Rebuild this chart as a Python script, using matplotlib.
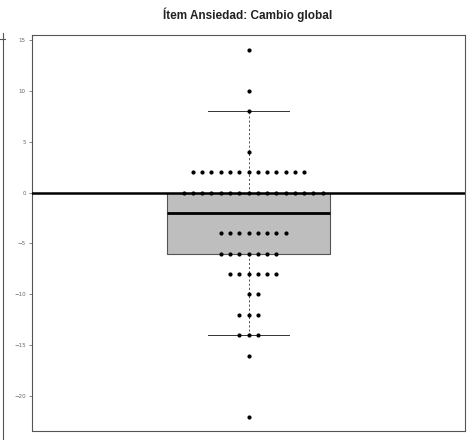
import matplotlib.pyplot as plt
import numpy as np
from matplotlib.lines import Line2D

# change scores (value -> how many patients)
values = np.array([14, 10, 8, 4, 2, 0, -2, -4, -6, -8, -10, -12, -14, -16, -22])
counts = np.array([1, 1, 1, 1, 13, 16, 5, 8, 7, 6, 2, 3, 3, 1, 1])
scores = np.repeat(values, counts)

yticks = [-20, -15, -10, -5, 0, 5, 10, 15]
title = "Ítem Ansiedad: Cambio global"

fig = plt.figure(figsize=(4.67, 4.4), dpi=100)
ax = fig.add_axes([32 / 467, 9 / 440, 433 / 467, 396 / 440])

bp = ax.boxplot(scores, positions=[1], widths=0.376, whis=1.5, showfliers=False,
                patch_artist=True, capwidths=0.185,
                boxprops=dict(facecolor="#bebebe", edgecolor="#555555", lw=0.8),
                medianprops=dict(color="black", lw=2, zorder=5),
                whiskerprops=dict(color="#333333", lw=0.6, ls=(0, (2.5, 2.5))),
                capprops=dict(color="#333333", lw=0.7))
med = np.median(scores)

# stacked strip of points (the row on the median is hidden behind the box)
step = 0.0214
for v, n in zip(values, counts):
    offs = (np.arange(n) - (n - 1) // 2) * step
    z = 1 if v == med else 3
    ax.plot(1 + offs, np.full(n, v), "o", ms=2.0, color="black", zorder=z)

ax.axhline(0, color="black", lw=1.8, zorder=4)

ax.set_xlim(0.5, 1.5)
ax.set_ylim(-23.4, 15.46)
ax.set_xticks([])
ax.set_yticks(yticks)
ax.tick_params(axis="y", labelsize=4, labelcolor="#666666", length=2.5,
               width=0.5, color="#555555", pad=2)
for s in ax.spines.values():
    s.set_color("#555555")
    s.set_linewidth(0.8)

fig.text(248 / 467, 1 - 15 / 440, title, ha="center", va="center",
         fontsize=8.5, fontweight="bold", family="Liberation Sans", color="#222222")

# edge of the neighbouring panel
fig.add_artist(Line2D([3 / 467, 3 / 467], [0, 1 - 33 / 440], color="#555555", lw=0.8))
fig.add_artist(Line2D([0, 5 / 467], [1 - 39 / 440, 1 - 39 / 440], color="#555555", lw=0.8))

fig.savefig("out.png", dpi=100)
